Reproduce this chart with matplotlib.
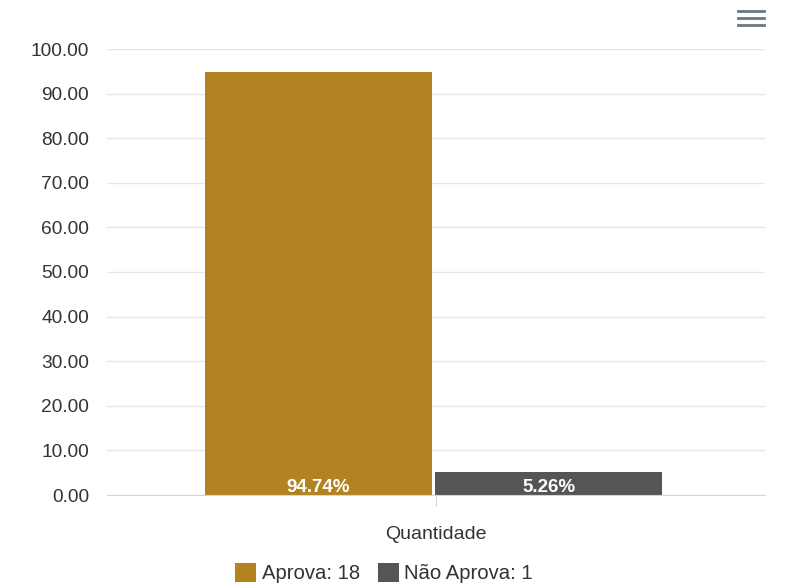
import matplotlib
matplotlib.use("Agg")
import matplotlib.pyplot as plt

categories = ["Quantidade"]
series_names = ["Aprova: 18", "Não Aprova: 1"]
series_values = [94.74, 5.26]
series_labels = ["94.74%", "5.26%"]
colors = ["#B38321", "#555555"]
yticks = [0, 10, 20, 30, 40, 50, 60, 70, 80, 90, 100]

plt.rcParams['font.family'] = ['Liberation Sans', 'DejaVu Sans']

fig = plt.figure(figsize=(7.91, 5.87), dpi=100)
ax = fig.add_axes([107/791, (587-495)/587, (765-107)/791, (495-49)/587])

width = 0.345
offsets = [-0.351 + width/2, -0.001 + width/2]
for i, (name, v, lab, c) in enumerate(zip(series_names, series_values, series_labels, colors)):
    ax.bar(offsets[i], v, width=width, color=c, label=name, zorder=3)
    ax.text(offsets[i], 0.6, lab, ha='center', va='baseline', color='white',
            fontsize=13.5, fontweight='bold', zorder=4)

ax.set_xlim(-0.5, 0.5)
ax.set_ylim(0, 100)
ax.set_yticks(yticks)
ax.set_yticklabels([f"{t:.2f}" for t in yticks], fontsize=13.8, color='#333333')
ax.set_xticks([0])
ax.set_xticklabels(categories, fontsize=14, color='#333333')
ax.tick_params(axis='y', length=0, pad=13)
ax.tick_params(axis='x', length=8, color='#ccd6eb', pad=14)
ax.grid(axis='y', color='#e6e6e6', linewidth=1, zorder=0)
for s in ['top', 'right', 'left']:
    ax.spines[s].set_visible(False)
ax.spines['bottom'].set_color('#ccd6eb')
ax.spines['bottom'].set_zorder(5)

leg = fig.legend(loc='center', bbox_to_anchor=(384/791, 1 - 573/587), ncol=2,
                 frameon=False, fontsize=14.6, handlelength=1.05, handleheight=1.05,
                 handletextpad=0.25, columnspacing=0.9, borderpad=0)
for t in leg.get_texts():
    t.set_color('#333333')

for yy in [11, 18, 25]:
    fig.add_artist(plt.Line2D([738/791, 764/791], [1 - yy/587, 1 - yy/587],
                              color='#6b7585', linewidth=2))

fig.savefig("out.png", dpi=100)
